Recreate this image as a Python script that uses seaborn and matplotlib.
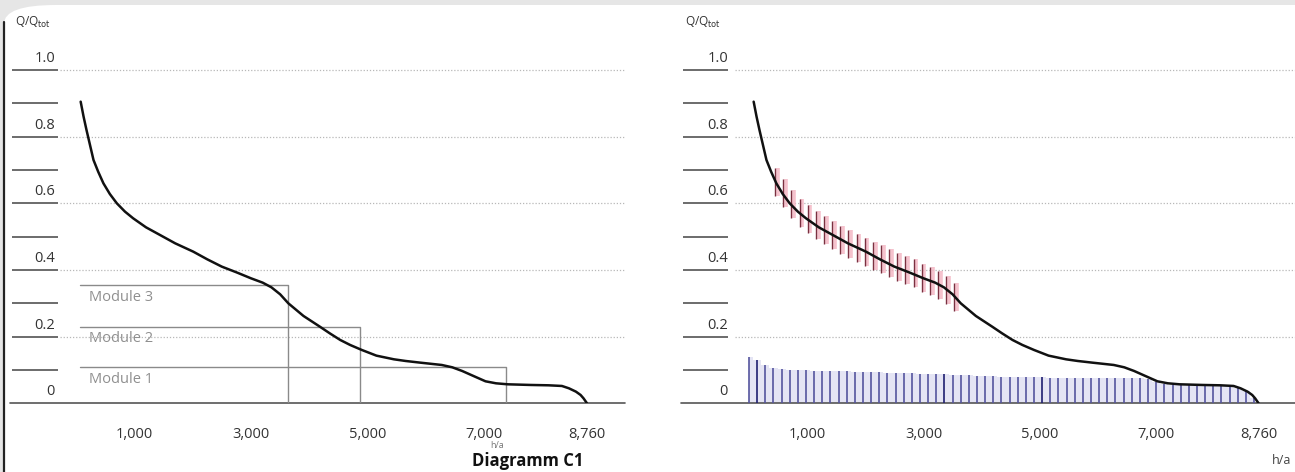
import matplotlib

matplotlib.use("Agg")
import matplotlib.pyplot as plt
import numpy as np
import pandas as pd
import seaborn as sns
from matplotlib.lines import Line2D
from matplotlib.patches import FancyBboxPatch

sns.set_theme(style="white")
plt.rcParams["font.family"] = ["Open Sans", "DejaVu Sans"]

# load duration curve (hours per year -> Q/Qtot)
curve_hours = [80, 130, 180, 240, 300, 380, 470, 580, 700, 840, 980, 1200, 1440, 1700,
               2010, 2250, 2500, 2750, 3000, 3200, 3350, 3500, 3640, 3900, 4180, 4350,
               4530, 4700, 4900, 5150, 5450, 5650, 5900, 6270, 6450, 6620, 6800, 7020,
               7200, 7400, 7800, 8100, 8330, 8450, 8570, 8650, 8700, 8760]
curve_q = [0.905, 0.86, 0.82, 0.775, 0.73, 0.695, 0.66, 0.628, 0.60, 0.575, 0.555, 0.528,
           0.505, 0.48, 0.455, 0.432, 0.41, 0.393, 0.375, 0.362, 0.348, 0.327, 0.3,
           0.262, 0.23, 0.21, 0.19, 0.175, 0.16, 0.143, 0.132, 0.127, 0.122, 0.115,
           0.108, 0.097, 0.083, 0.066, 0.06, 0.057, 0.055, 0.054, 0.052, 0.045, 0.035,
           0.025, 0.015, 0.0]

# modules (left chart)
module_names = ["Module 1", "Module 2", "Module 3"]
module_q = [0.109, 0.23, 0.355]
module_end = [7367, 4866, 3634]
module_start = 70

# red band (right chart)
hatch_hours = [450, 590, 730, 870, 1010, 1150, 1290, 1430, 1570, 1710, 1850, 1990,
               2130, 2270, 2410, 2550, 2690, 2830, 2970, 3110, 3250, 3390, 3530]
hatch_q = [0.665, 0.63, 0.597, 0.572, 0.552, 0.535, 0.52, 0.505, 0.49, 0.479, 0.467, 0.455,
           0.443, 0.432, 0.42, 0.41, 0.40, 0.39, 0.377, 0.367, 0.355, 0.34, 0.32]
hatch_half = 0.042

# blue base-load bars (right chart)
bar_hours = np.arange(0, 8760, 140)
bar_q = [0.140, 0.130, 0.116, 0.106, 0.102, 0.101, 0.100, 0.099, 0.098, 0.098, 0.097, 0.096,
         0.096, 0.095, 0.094, 0.093, 0.093, 0.092, 0.091, 0.090, 0.090, 0.089, 0.088, 0.087,
         0.087, 0.086, 0.085, 0.084, 0.083, 0.082, 0.081, 0.080, 0.079, 0.079, 0.078, 0.078,
         0.078, 0.077, 0.077, 0.077, 0.077, 0.076, 0.076, 0.076, 0.076, 0.076, 0.075, 0.075,
         0.075, 0.073, 0.064, 0.058, 0.056, 0.055, 0.055, 0.055, 0.054, 0.054, 0.053, 0.052,
         0.046, 0.036, 0.015]
dark_bars = [1, 24, 36]

tick_pos = [0, 1000, 2000, 3000, 4000, 5000, 6000, 7000, 8000, 8760]
tick_text = ["", "1,000", "", "3,000", "", "5,000", "", "7,000", "", "8,760"]
y_labels = {1.0: "1.0", 0.8: "0.8", 0.6: "0.6", 0.4: "0.4", 0.2: "0.2", 0.0: "0"}
grid_levels = [0.2, 0.4, 0.6, 0.8, 1.0]
underline_levels = [0.1, 0.2, 0.3, 0.4, 0.5, 0.6, 0.7, 0.8, 0.9, 1.0]

W, H = 1295, 472
fig = plt.figure(figsize=(W / 100, H / 100), dpi=100)
fig.patch.set_facecolor("#e6e6e6")
fig.patches.append(FancyBboxPatch((4 / W, -0.05), 1.1, 1.05 - 5 / H,
                                  boxstyle="round,pad=0,rounding_size=0.04",
                                  transform=fig.transFigure, facecolor="white",
                                  edgecolor="none", zorder=-10))
fig.lines.append(Line2D([4 / W, 4 / W], [0, 1 - 22 / H], transform=fig.transFigure,
                        color="#222", lw=1.6))

df_curve = pd.DataFrame({"h": curve_hours, "q": curve_q})

y0_px, y1_px = 403.3, 70.0
per_unit = y0_px - y1_px
ax_top_px = 55
ylim_top = 1 + (y1_px - ax_top_px) / per_unit
bottom = (H - y0_px) / H
height = (y0_px - ax_top_px) / H


def setup(ax, left_px, zero_px, px_per_h, right_px, lab_px, under_px, base_px, qlab_px):
    width_px = right_px - left_px
    ax.set_position([left_px / W, bottom, width_px / W, height])
    ax.set_xlim(-(zero_px - left_px) / px_per_h,
                8760 + (right_px - (zero_px + 8760 * px_per_h)) / px_per_h)
    ax.set_ylim(0, ylim_top)
    ax.set_facecolor("none")
    for s in ax.spines.values():
        s.set_visible(False)
    ax.set_yticks(grid_levels)
    ax.set_yticklabels([])
    ax.tick_params(axis="y", length=0)
    ax.grid(axis="y", linestyle=(0, (1, 1.5)), color="#b8b8b8", lw=0.9)
    ax.grid(axis="x", visible=False)
    ax.set_xticks(tick_pos)
    ax.set_xticklabels(tick_text, fontsize=10.5, color="#333")
    ax.tick_params(axis="x", length=9, width=1, color="#444", pad=8, direction="out")
    tr = ax.get_yaxis_transform()
    ax_x = lambda px: (px - left_px) / width_px
    ax.hlines(underline_levels, ax_x(under_px[0]), ax_x(under_px[1]), transform=tr,
              color="#444", lw=1.1, clip_on=False)
    ax.plot([ax_x(base_px), 1], [0, 0], transform=tr, color="#555", lw=1.2, clip_on=False)
    for v, t in y_labels.items():
        ax.text(ax_x(lab_px), v + 0.012, t, transform=tr, ha="right", va="bottom",
                fontsize=10.5, color="#333", clip_on=False)
    ax.text(ax_x(qlab_px), 1 + (y1_px - 22) / per_unit, r"Q/Q$_{\mathrm{tot}}$", transform=tr,
            ha="left", va="center", fontsize=8.5, color="#333", clip_on=False)


# left chart
axL = fig.add_axes([0, 0, 1, 1])
setup(axL, 60, 76, (587 - 76) / 8760, 625, 55, (12, 58), 10, 15)
for name, q, end in zip(module_names, module_q, module_end):
    axL.plot([module_start, end, end], [q, q, 0], color="#8a8a8a", lw=1)
    axL.text(module_start + 150, q - 0.037, name, fontsize=10.5, color="#8f8f8f",
             ha="left", va="center")
sns.lineplot(data=df_curve, x="h", y="q", ax=axL, color="#111", lw=1.8)
axL.set_xlabel("")
axL.set_ylabel("")

# right chart
axR = fig.add_axes([0, 0, 1, 1])
setup(axR, 735, 749, (1258.6 - 749) / 8760, 1295, 728, (683, 728), 681, 685)
axR.fill_between(bar_hours, 0, bar_q, step="mid", color="#e4e4f4", lw=0, zorder=1)
bar_colors = ["#1e1e70" if i in dark_bars else "#55559e" for i in range(len(bar_q))]
axR.vlines(bar_hours, 0, bar_q, colors=bar_colors, lw=1.2, zorder=2)
hq = np.array(hatch_q)
axR.vlines(np.array(hatch_hours) + 45, hq - hatch_half, hq + hatch_half,
           colors="#f3b3c1", lw=2.6, alpha=0.8, zorder=3)
axR.vlines(hatch_hours, hq - hatch_half, hq + hatch_half, colors="#7a3040", lw=1.0, zorder=3)
sns.lineplot(data=df_curve, x="h", y="q", ax=axR, color="#111", lw=1.8, zorder=4)
axR.set_xlabel("")
axR.set_ylabel("")

# bottom texts
fig.text(497 / W, (H - 446) / H, "h/a", fontsize=6.5, color="#777", ha="center", va="center")
fig.text(1282 / W, (H - 461) / H, "h/a", fontsize=9, color="#444", ha="center", va="center")
fig.text(472 / W, (H - 466) / H, "Diagramm C1", fontsize=12, fontweight="bold",
         color="#111", ha="left", va="baseline")

fig.savefig("out.png", dpi=100)
